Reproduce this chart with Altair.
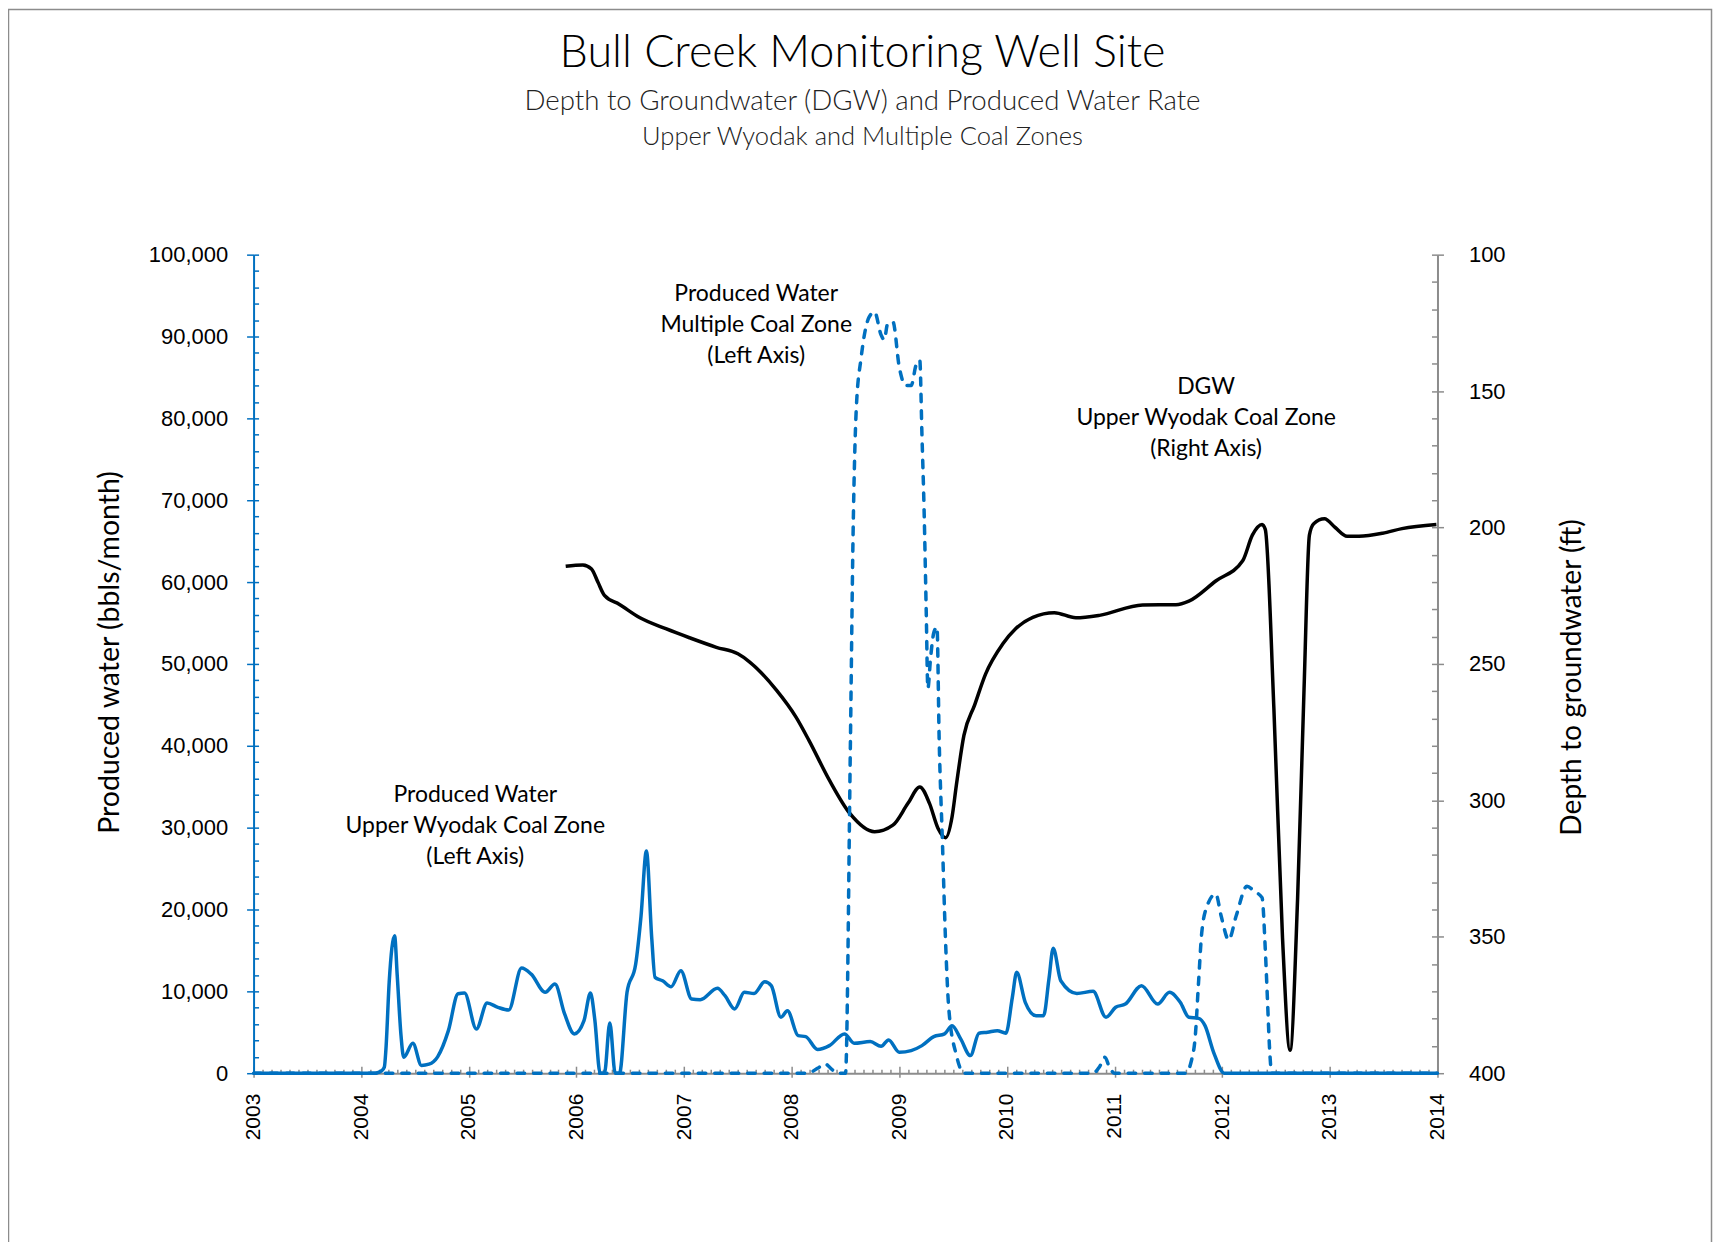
import altair as alt
import pandas as pd

# ---------------- data ----------------
# Produced water, Upper Wyodak coal zone (solid blue, left axis)
uw_year = [2003.00, 2004.13, 2004.19, 2004.215, 2004.23, 2004.26, 2004.31, 2004.335, 2004.37, 2004.395,
           2004.48, 2004.56, 2004.63, 2004.71, 2004.81, 2004.90, 2004.96, 2005.07, 2005.17, 2005.27,
           2005.37, 2005.49, 2005.58, 2005.71, 2005.80, 2005.89, 2005.98, 2006.07, 2006.13, 2006.17,
           2006.22, 2006.26, 2006.31, 2006.36, 2006.40, 2006.47, 2006.55, 2006.60, 2006.65, 2006.70,
           2006.73, 2006.80, 2006.88, 2006.97, 2007.07, 2007.15, 2007.31, 2007.38, 2007.47, 2007.56,
           2007.65, 2007.75, 2007.81, 2007.90, 2007.96, 2008.06, 2008.13, 2008.24, 2008.35, 2008.49,
           2008.58, 2008.73, 2008.83, 2008.90, 2009.00, 2009.11, 2009.21, 2009.32, 2009.42, 2009.49,
           2009.57, 2009.66, 2009.74, 2009.82, 2009.91, 2009.99, 2010.05, 2010.09, 2010.17, 2010.27,
           2010.34, 2010.39, 2010.43, 2010.50, 2010.65, 2010.80, 2010.92, 2011.01, 2011.10, 2011.25,
           2011.40, 2011.51, 2011.61, 2011.69, 2011.78, 2011.84, 2011.92, 2012.02, 2014.00]
uw_water = [0, 0, 300, 730, 2970, 11100, 16800, 11900, 4590, 1950,
            3660, 950, 1100, 2000, 5200, 9700, 9800, 5400, 8580, 8050,
            7720, 12850, 12100, 9880, 10900, 7240, 4800, 6420, 9800, 6600,
            0, 0, 6140, 0, 0, 9880, 13300, 19200, 27150, 16400,
            11700, 11300, 10570, 12520, 9065, 8980, 10370, 9470, 7850, 9880,
            9750, 11180, 10690, 6830, 7640, 4590, 4470, 2890, 3370, 4800,
            3660, 3860, 3290, 4065, 2560, 2760, 3370, 4470, 4800, 5810,
            4190, 2150, 4880, 5000, 5200, 4880, 9270, 12320, 8660, 7030,
            7030, 11500, 15280, 11300, 9750, 10000, 6830, 8050, 8450, 10690,
            8450, 9880, 8660, 6830, 6700, 5810, 2560, 0, 0]

# Produced water, multiple coal zone (dashed blue, left axis)
mc_year = [2003.00, 2008.15, 2008.24, 2008.31, 2008.37, 2008.42, 2008.50, 2008.545, 2008.57, 2008.60,
           2008.645, 2008.72, 2008.77, 2008.83, 2008.86, 2008.89, 2008.94, 2009.00, 2009.06, 2009.11,
           2009.155, 2009.19, 2009.21, 2009.23, 2009.25, 2009.265, 2009.29, 2009.32, 2009.35, 2009.37,
           2009.40, 2009.43, 2009.46, 2009.53, 2009.60, 2010.80, 2010.86, 2010.91, 2010.95, 2011.00,
           2011.66, 2011.71, 2011.75, 2011.78, 2011.81, 2011.86, 2011.94, 2011.99, 2012.06, 2012.13,
           2012.23, 2012.30, 2012.37, 2012.40, 2012.42, 2012.44, 2012.46, 2014.00]
mc_water = [0, 0, 600, 1140, 500, 0, 0, 40000, 65700, 81200,
            87400, 92400, 93000, 90200, 89600, 91500, 91800, 86200, 84000, 84000,
            86500, 87100, 78000, 68800, 56300, 47000, 50700, 53800, 54500, 40800,
            28400, 15900, 7800, 2200, 0, 0, 800, 1950, 800, 0,
            0, 1340, 4590, 11100, 17200, 20450, 21900, 19200, 16300, 19230,
            22840, 22200, 21440, 15160, 9065, 2970, 0, 0]

# Depth to groundwater, Upper Wyodak (black, right axis, ft)
dgw_year = [2005.90, 2006.06, 2006.14, 2006.20, 2006.26, 2006.40, 2006.59, 2006.83, 2007.05, 2007.30,
            2007.50, 2007.61, 2007.86, 2008.04, 2008.16, 2008.35, 2008.54, 2008.77, 2008.94, 2009.08,
            2009.19, 2009.28, 2009.36, 2009.43, 2009.49, 2009.53, 2009.60, 2009.70, 2009.80, 2009.96,
            2010.08, 2010.24, 2010.44, 2010.64, 2010.86, 2011.26, 2011.57, 2011.69, 2011.94, 2012.19,
            2012.28, 2012.37, 2012.40, 2012.48, 2012.56, 2012.63, 2012.70, 2012.76, 2012.81, 2012.85,
            2012.95, 2013.05, 2013.16, 2013.27, 2013.49, 2013.67, 2013.99]
dgw_depth = [214.2, 213.7, 215.2, 220.1, 224.9, 228.2, 233.1, 237.1, 240.4, 243.9,
             246.3, 249.3, 259.7, 269.5, 278.0, 292.6, 304.8, 311.5, 309.1, 301.1,
             295.1, 301.1, 310.3, 313.7, 306.0, 294.4, 276.2, 265.0, 253.8, 242.7,
             237.1, 232.9, 231.2, 233.1, 232.2, 228.4, 228.3, 227.0, 219.6, 212.2,
             202.8, 198.9, 200.7, 266.4, 350.3, 391.6, 336.3, 259.4, 202.8, 198.6,
             196.8, 200.0, 203.2, 203.2, 202.1, 200.4, 198.9]

# tick values
year_ticks = list(range(2003, 2015))
month_ticks = [2003 + i / 12 for i in range(133)]
left_major = list(range(0, 100001, 10000))
left_minor = list(range(0, 100001, 2000))
right_major = list(range(100, 401, 50))
right_minor = list(range(100, 401, 10))

# annotations (first-line anchor in data coordinates of the left axis)
ann_text = ["Produced Water\nMultiple Coal Zone\n(Left Axis)",
            "DGW\nUpper Wyodak Coal Zone\n(Right Axis)",
            "Produced Water\nUpper Wyodak Coal Zone\n(Left Axis)"]
ann_year = [2007.67, 2011.85, 2005.06]
ann_water = [95180, 83830, 34030]

title_lines = ["Bull Creek Monitoring Well Site",
               "Depth to Groundwater (DGW) and Produced Water Rate",
               "Upper Wyodak and Multiple Coal Zones"]

# ---------------- chart ----------------
W, H = 1186, 820
BLUE = "#0070C0"
GRAY = "#8C8C8C"
LABEL_FONT = "Liberation Sans"
TEXT_FONT = "Lato"

uw_df = pd.DataFrame({"year": uw_year, "water": uw_water})
mc_df = pd.DataFrame({"year": mc_year, "water": mc_water})
dgw_df = pd.DataFrame({"year": dgw_year, "depth": dgw_depth})
ann_df = pd.DataFrame({"year": ann_year, "water": ann_water, "label": ann_text})
one = pd.DataFrame({"k": [0]})

x_scale = alt.Scale(domain=[2003, 2014], nice=False, zero=False)
left_scale = alt.Scale(domain=[0, 100000], nice=False, zero=False)
right_scale = alt.Scale(domain=[100, 400], reverse=True, nice=False, zero=False)

x_main = alt.Axis(orient="bottom", values=year_ticks, format="d", labelAngle=270,
                  labelFont=LABEL_FONT, labelFontSize=21, labelColor="black", labelPadding=16,
                  labelFlush=False, labelOverlap=False, tickSize=4, tickColor=GRAY, tickWidth=1.5,
                  domainColor=GRAY, domainWidth=2, grid=False, title=None)
x_inner = alt.Axis(orient="top", offset=-H, values=month_ticks, labels=False, domain=False,
                   grid=False, title=None, tickColor=GRAY, tickWidth=1.5,
                   tickSize={"condition": {"test": "datum.value % 1 === 0", "value": 7}, "value": 4})

left_main = alt.Axis(orient="left", values=left_major, format=",d", labelFont=LABEL_FONT,
                     labelFontSize=22, labelColor="black", labelPadding=19, labelOverlap=False,
                     tickSize=7, tickColor=BLUE, tickWidth=1.5, domainColor=BLUE, domainWidth=2,
                     grid=False, title="Produced water (bbls/month)", titleFont=TEXT_FONT,
                     titleFontSize=28.5, titleFontWeight="normal", titleColor="black",
                     titleX=-144, titleY=398, titleAngle=270, titleAlign="center",
                     titleBaseline="middle")
left_inner = alt.Axis(orient="right", offset=-W, values=left_minor, labels=False, domain=False,
                      grid=False, title=None, tickSize=5, tickColor=BLUE, tickWidth=1.5)

right_main = alt.Axis(orient="right", values=right_major, format="d", labelFont=LABEL_FONT,
                      labelFontSize=22, labelColor="black", labelPadding=25, labelOverlap=False,
                      tickSize=6, tickColor=GRAY, tickWidth=1.5, domainColor=GRAY, domainWidth=2,
                      grid=False, title="Depth to groundwater (ft)", titleFont=TEXT_FONT,
                      titleFontSize=28.2, titleFontWeight="normal", titleColor="black",
                      titleX=135, titleY=423, titleAngle=270, titleAlign="center",
                      titleBaseline="middle")
right_inner = alt.Axis(orient="left", offset=-W, values=right_minor, labels=False, domain=False,
                       grid=False, title=None, tickSize=6, tickColor=GRAY, tickWidth=1.5)

frame = alt.Chart(one).mark_rect(fillOpacity=0, stroke="#8C8C8C", strokeWidth=1.5).encode(
    x=alt.value(-245.5), x2=alt.value(W + 274.5), y=alt.value(-245.5), y2=alt.value(H + 220))

dgw_line = alt.Chart(dgw_df).mark_line(color="black", strokeWidth=3.5, interpolate="monotone").encode(
    x=alt.X("year:Q", scale=x_scale, axis=None),
    y=alt.Y("depth:Q", scale=right_scale, axis=right_main))

dgw_ticks = alt.Chart(dgw_df).mark_line(strokeOpacity=0, interpolate="monotone").encode(
    x=alt.X("year:Q", scale=x_scale, axis=None),
    y=alt.Y("depth:Q", scale=right_scale, axis=right_inner))

mc_line = alt.Chart(mc_df).mark_line(color=BLUE, strokeWidth=3.5, strokeDash=[7.5, 9],
                                     strokeCap="round", interpolate="monotone").encode(
    x=alt.X("year:Q", scale=x_scale, axis=x_inner),
    y=alt.Y("water:Q", scale=left_scale, axis=left_inner))

uw_line = alt.Chart(uw_df).mark_line(color=BLUE, strokeWidth=3.5, interpolate="monotone").encode(
    x=alt.X("year:Q", scale=x_scale, axis=x_main),
    y=alt.Y("water:Q", scale=left_scale, axis=left_main))

ann = alt.Chart(ann_df).mark_text(font=TEXT_FONT, fontSize=23, lineBreak="\n", lineHeight=31,
                                  align="center", baseline="middle", color="black").encode(
    x=alt.X("year:Q", scale=x_scale, axis=None),
    y=alt.Y("water:Q", scale=left_scale, axis=None),
    text="label:N")

t_main = alt.Chart(one).mark_text(font=TEXT_FONT, fontSize=45, fontWeight=300, align="center",
                                  baseline="alphabetic", color="black").encode(
    x=alt.value(610), y=alt.value(-188), text=alt.value(title_lines[0]))
t_sub1 = alt.Chart(one).mark_text(font=TEXT_FONT, fontSize=27.7, fontWeight=300, align="center",
                                  baseline="alphabetic", color="#222222").encode(
    x=alt.value(610), y=alt.value(-145), text=alt.value(title_lines[1]))
t_sub2 = alt.Chart(one).mark_text(font=TEXT_FONT, fontSize=25.6, fontWeight=300, align="center",
                                  baseline="alphabetic", color="#222222").encode(
    x=alt.value(610), y=alt.value(-110), text=alt.value(title_lines[2]))

chart = alt.layer(frame, dgw_line, dgw_ticks, mc_line, uw_line, ann, t_main, t_sub1, t_sub2).resolve_scale(
    y="independent"
).properties(
    width=W, height=H,
    autosize=alt.AutoSizeParams(type="none"),
    padding={"left": 246, "top": 246, "right": 276, "bottom": 168},
    background="white",
).configure_view(strokeWidth=0).configure_axis(grid=False)

chart.save("out.html", embed_options={"renderer": "svg", "actions": False})
